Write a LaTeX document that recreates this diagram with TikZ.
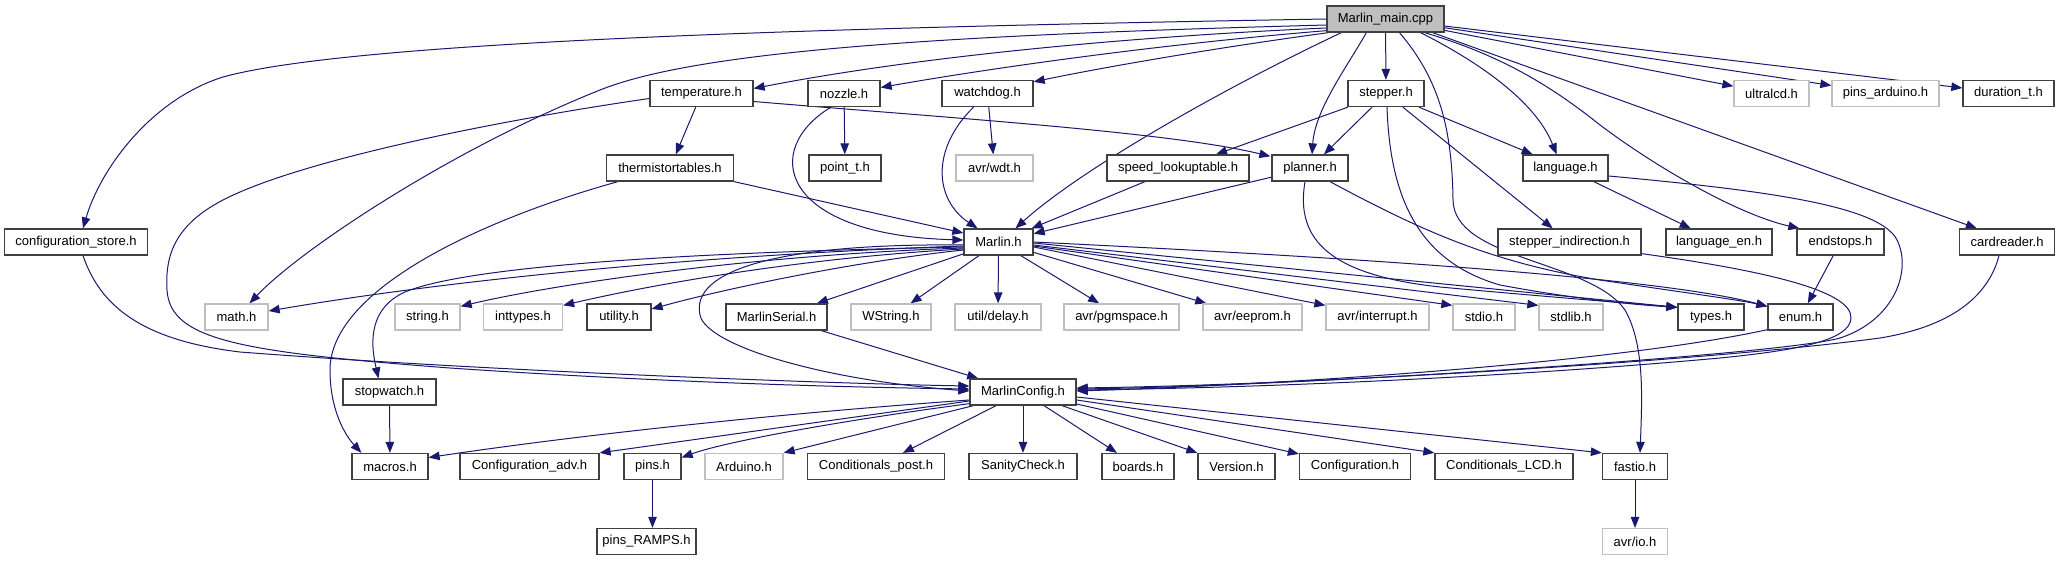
\documentclass[tikz,border=0pt]{standalone}
\usepackage{fontspec}
\setmainfont{Liberation Sans}
\usetikzlibrary{arrows.meta,calc}
\pgfdeclarelayer{bg}
\pgfsetlayers{bg,main}
\definecolor{navy}{RGB}{25,25,112}
\definecolor{boxline}{RGB}{64,64,64}
\definecolor{missline}{RGB}{191,191,191}
\definecolor{rootfill}{RGB}{191,191,191}
\begin{document}
\begin{tikzpicture}[x=1pt,y=-1pt,
  box/.style={draw=boxline, line width=1.3pt, fill=white, minimum height=26pt, inner sep=0pt, font=\fontsize{13}{15}\selectfont},
  miss/.style={box, draw=missline},
  rootnode/.style={box, fill=rootfill},
  dep/.style={draw=navy, line width=1pt, -{Triangle[length=11pt,width=8.5pt]}},
]
\useasboundingbox (0,0) rectangle (2060,560);

% row 0
\node[rootnode, minimum width=117pt] (main) at (1385.5,19) {Marlin\_main.cpp};
% row 1
\node[box, minimum width=103pt] (temp) at (701.5,93.5) {temperature.h};
\node[box, minimum width=72pt] (nozzle) at (844,93.5) {nozzle.h};
\node[box, minimum width=91pt] (watchdog) at (987.5,93.5) {watchdog.h};
\node[box, minimum width=76pt] (stepper) at (1386,93.5) {stepper.h};
\node[miss, minimum width=75pt] (ultralcd) at (1771.5,93.5) {ultralcd.h};
\node[miss, minimum width=107pt] (pinsard) at (1885.5,93.5) {pins\_arduino.h};
\node[box, minimum width=91pt] (duration) at (2008.5,93.5) {duration\_t.h};
% row 2
\node[box, minimum width=127pt] (therm) at (670,168) {thermistortables.h};
\node[box, minimum width=72pt] (pointt) at (845,168) {point\_t.h};
\node[miss, minimum width=77pt] (wdt) at (994.5,168) {avr/wdt.h};
\node[box, minimum width=142pt] (speed) at (1178,168) {speed\_lookuptable.h};
\node[box, minimum width=76pt] (planner) at (1310,168) {planner.h};
\node[box, minimum width=85pt] (language) at (1565.5,168) {language.h};
% row 3
\node[box, minimum width=143pt] (confstore) at (76,242) {configuration\_store.h};
\node[box, minimum width=69pt] (marlin) at (998.5,242) {Marlin.h};
\node[box, minimum width=143pt] (stind) at (1569.5,242) {stepper\_indirection.h};
\node[box, minimum width=106pt] (langen) at (1719,242) {language\_en.h};
\node[box, minimum width=87pt] (endstops) at (1840.5,242) {endstops.h};
\node[box, minimum width=95pt] (cardreader) at (2007,242) {cardreader.h};
% row 4
\node[miss, minimum width=63pt] (math) at (236.5,317) {math.h};
\node[miss, minimum width=65pt] (string) at (427.5,317) {string.h};
\node[miss, minimum width=79pt] (inttypes) at (523,317) {inttypes.h};
\node[box, minimum width=64pt] (utility) at (619,317) {utility.h};
\node[box, minimum width=101pt] (mserial) at (776.5,317) {MarlinSerial.h};
\node[miss, minimum width=80pt] (wstring) at (891,317) {WString.h};
\node[miss, minimum width=86pt] (delay) at (998,317) {util/delay.h};
\node[miss, minimum width=115pt] (pgmspace) at (1121.5,317) {avr/pgmspace.h};
\node[miss, minimum width=99pt] (eeprom) at (1252.5,317) {avr/eeprom.h};
\node[miss, minimum width=103pt] (avrint) at (1377.5,317) {avr/interrupt.h};
\node[miss, minimum width=62pt] (stdio) at (1484,317) {stdio.h};
\node[miss, minimum width=64pt] (stdlib) at (1571,317) {stdlib.h};
\node[box, minimum width=66pt] (types) at (1711,317) {types.h};
\node[box, minimum width=65pt] (enum) at (1800.5,317) {enum.h};
% row 5
\node[box, minimum width=93pt] (stopwatch) at (389.5,392) {stopwatch.h};
\node[box, minimum width=106pt] (mconfig) at (1023,392) {MarlinConfig.h};
% row 6
\node[box, minimum width=76pt] (macros) at (390,466.5) {macros.h};
\node[box, minimum width=139pt] (confadv) at (529.5,466.5) {Configuration\_adv.h};
\node[box, minimum width=57pt] (pins) at (652.5,466.5) {pins.h};
\node[miss, minimum width=78pt] (arduino) at (744,466.5) {Arduino.h};
\node[box, minimum width=137pt] (condpost) at (876,466.5) {Conditionals\_post.h};
\node[box, minimum width=108pt] (sanity) at (1023,466.5) {SanityCheck.h};
\node[box, minimum width=72pt] (boards) at (1138,466.5) {boards.h};
\node[box, minimum width=77pt] (version) at (1236.5,466.5) {Version.h};
\node[box, minimum width=111pt] (configuration) at (1355,466.5) {Configuration.h};
\node[box, minimum width=138pt] (condlcd) at (1504,466.5) {Conditionals\_LCD.h};
\node[box, minimum width=65pt] (fastio) at (1635,466.5) {fastio.h};
% row 7
\node[box, minimum width=99pt] (ramps) at (646.5,541.5) {pins\_RAMPS.h};
\node[miss, minimum width=65pt] (avrio) at (1635,541.5) {avr/io.h};

\begin{pgfonlayer}{bg}
\fill[white] (0,0) rectangle (2060,560);
% from Marlin_main.cpp
\draw[dep] (main.west) .. controls (800,28) and (350,42) .. (223,77) .. controls (150,100) and (100,170) .. ($(confstore.north)+(7,0)$);
\draw[dep] ($(main.west)+(0,6)$) .. controls (950,35) and (700,50) .. (600,90) .. controls (450,150) and (300,250) .. ($(math.north)+(13,0)$);
\draw[dep] ($(main.west)+(0,9)$) .. controls (1100,38) and (900,60) .. ($(temp.east)+(0,-5)$);
\draw[dep] ($(main.south west)+(0,-2)$) .. controls (1150,45) and (980,70) .. ($(nozzle.east)+(0,-6)$);
\draw[dep] ($(main.south west)+(2,0)$) .. controls (1200,50) and (1090,70) .. ($(watchdog.north east)+(0,2)$);
\draw[dep] ($(main.south west)+(15,0)$) .. controls (1220,90) and (1080,170) .. ($(marlin.north)+(17,0)$);
\draw[dep] ($(main.south west)+(40,0)$) .. controls (1345,70) and (1315,110) .. ($(planner.north)+(2,0)$);
\draw[dep] (main) -- (stepper);
\draw[dep] ($(main.south)+(35,0)$) .. controls (1475,60) and (1535,100) .. ($(language.north)+(-9,0)$);
\draw[dep] ($(main.south)+(14,0)$) .. controls (1440,80) and (1452,130) .. (1453,200) .. controls (1454,260) and (1590,260) .. (1625,310) .. controls (1645,345) and (1642,400) .. ($(fastio.north)+(5,0)$);
\draw[dep] ($(main.south east)+(-20,0)$) .. controls (1500,55) and (1550,85) .. (1600,125) .. controls (1660,170) and (1740,215) .. ($(endstops.north west)+(3,0)$);
\draw[dep] ($(main.south east)+(-12,0)$) -- ($(cardreader.north west)+(18,0)$);
\draw[dep] (main) -- (ultralcd);
\draw[dep] (main) -- (pinsard);
\draw[dep] (main) -- (duration);
% temperature.h
\draw[dep] (temp) -- (therm);
\draw[dep] ($(temp.east)+(0,8)$) .. controls (950,118) and (1170,132) .. ($(planner.north west)+(-1,2)$);
\draw[dep] ($(temp.west)+(0,5)$) .. controls (500,120) and (300,160) .. (223,200) .. controls (175,225) and (165,255) .. (167,290) .. controls (170,340) and (240,352) .. (450,368) .. controls (700,385) and (900,388) .. ($(mconfig.west)+(0,-3)$);
% configuration_store.h
\draw[dep] ($(confstore.south)+(7,0)$) .. controls (100,305) and (140,340) .. (240,352) .. controls (500,372) and (850,384) .. ($(mconfig.west)+(0,-6)$);
% thermistortables.h
\draw[dep] (therm.south east) -- ($(marlin.west)+(0,-9)$);
\draw[dep] ($(therm.south west)+(12,0)$) .. controls (480,220) and (330,290) .. (330,370) .. controls (330,410) and (345,435) .. ($(macros.north west)+(10,0)$);
% nozzle.h
\draw[dep] (nozzle) -- (pointt);
\draw[dep] ($(nozzle.south)+(-13,0)$) .. controls (760,150) and (780,235) .. ($(marlin.west)+(0,-2)$);
% watchdog.h
\draw[dep] (watchdog) -- (wdt);
\draw[dep] ($(watchdog.south)+(-14,0)$) .. controls (930,150) and (935,200) .. ($(marlin.north)+(-21,0)$);
% speed_lookuptable.h, planner.h
\draw[dep] (speed) -- (marlin);
\draw[dep] (planner) -- (marlin);
\draw[dep] ($(planner.south)+(-5,0)$) .. controls (1295,240) and (1330,275) .. (1440,287) .. controls (1560,298) and (1640,304) .. ($(types.north west)+(0,4)$);
\draw[dep] ($(planner.south)+(20,0)$) .. controls (1420,230) and (1490,262) .. (1600,280) .. controls (1680,292) and (1740,300) .. ($(enum.north west)+(0,3)$);
% stepper.h
\draw[dep] (stepper) -- (speed);
\draw[dep] (stepper) -- (planner);
\draw[dep] (stepper) -- (language);
\draw[dep] (stepper) -- (stind);
\draw[dep] ($(stepper.south)+(1,0)$) .. controls (1390,200) and (1420,262) .. (1500,285) .. controls (1580,300) and (1640,305) .. ($(types.north west)+(0,4)$);
% language.h
\draw[dep] (language) -- (langen);
\draw[dep] ($(language.east)+(0,8)$) .. controls (1760,190) and (1880,205) .. (1897,240) .. controls (1912,270) and (1895,320) .. (1840,338) .. controls (1780,355) and (1300,386) .. ($(mconfig.east)+(0,-3)$);
% stepper_indirection.h, cardreader.h, endstops.h, enum.h
\draw[dep] ($(stind.south east)+(0,-2)$) .. controls (1760,270) and (1852,290) .. (1851,318) .. controls (1850,340) and (1800,350) .. (1720,358) .. controls (1500,378) and (1250,388) .. ($(mconfig.east)+(0,-2)$);
\draw[dep] ($(cardreader.south)+(-8,0)$) .. controls (1990,290) and (1960,325) .. (1880,338) .. controls (1700,362) and (1300,385) .. ($(mconfig.east)+(0,-4)$);
\draw[dep] (endstops) -- (enum);
\draw[dep] ($(enum.south west)+(0,-1)$) .. controls (1620,362) and (1300,384) .. ($(mconfig.east)+(0,-1)$);
% Marlin.h
\draw[dep] (marlin) -- (mserial);
\draw[dep] (marlin) -- (wstring);
\draw[dep] (marlin) -- (delay);
\draw[dep] (marlin) -- (pgmspace);
\draw[dep] (marlin) -- (eeprom);
\draw[dep] ($(marlin.east)+(0,5)$) -- ($(avrint.north west)+(0,2)$);
\draw[dep] ($(marlin.east)+(0,4)$) -- ($(stdio.north west)+(0,2)$);
\draw[dep] ($(marlin.east)+(0,3)$) -- ($(stdlib.north west)+(0,2)$);
\draw[dep] ($(marlin.east)+(0,1)$) -- ($(types.north west)+(0,4)$);
\draw[dep] (marlin.east) .. controls (1300,255) and (1650,275) .. ($(enum.north west)+(0,3)$);
\draw[dep] ($(marlin.west)+(0,4)$) .. controls (700,255) and (450,280) .. ($(math.east)+(0,-6)$);
\draw[dep] ($(marlin.west)+(0,6)$) .. controls (750,255) and (550,285) .. ($(string.north east)+(0,3)$);
\draw[dep] ($(marlin.west)+(0,7)$) .. controls (800,258) and (650,285) .. ($(inttypes.north east)+(0,2)$);
\draw[dep] ($(marlin.west)+(0,8)$) .. controls (850,262) and (720,290) .. ($(utility.east)+(0,-8)$);
\draw[dep] ($(marlin.west)+(0,5)$) .. controls (700,252) and (470,265) .. (405,292) .. controls (365,310) and (372,350) .. ($(stopwatch.north)+(-11,0)$);
\draw[dep] ($(marlin.west)+(0,3)$) .. controls (780,243) and (690,270) .. (700,315) .. controls (706,345) and (820,380) .. ($(mconfig.west)+(0,-1)$);
% MarlinSerial.h
\draw[dep] (mserial) -- (mconfig);
% MarlinConfig.h
\draw[dep] ($(mconfig.west)+(0,8)$) .. controls (800,412) and (600,432) .. ($(macros.east)+(0,-9)$);
\draw[dep] ($(mconfig.west)+(0,9)$) -- (confadv.north east);
\draw[dep] ($(mconfig.south west)+(0,-2)$) .. controls (860,418) and (730,440) .. ($(pins.east)+(0,-9)$);
\draw[dep] ($(mconfig.south west)+(4,0)$) -- (arduino.north east);
\draw[dep] (mconfig) -- (condpost);
\draw[dep] (mconfig) -- (sanity);
\draw[dep] (mconfig) -- (boards);
\draw[dep] (mconfig) -- (version);
\draw[dep] (mconfig) -- (configuration);
\draw[dep] ($(mconfig.east)+(0,8)$) -- (condlcd.north west);
\draw[dep] ($(mconfig.east)+(0,5)$) -- (fastio.north west);
% others
\draw[dep] (stopwatch) -- (macros);
\draw[dep] (pins.south) -- (pins.south |- ramps.north);
\draw[dep] (fastio) -- (avrio);
\end{pgfonlayer}
\end{tikzpicture}
\end{document}
